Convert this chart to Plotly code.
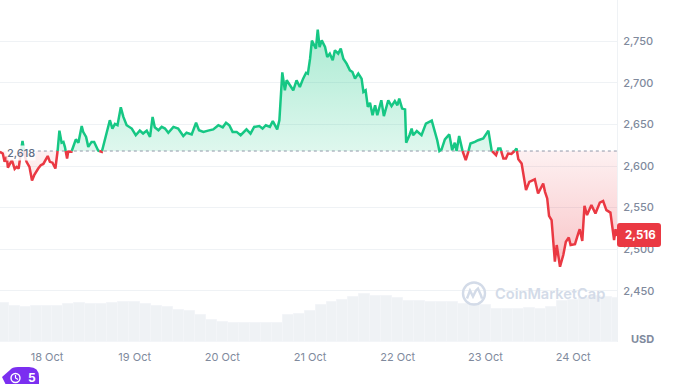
import numpy as np
import plotly.graph_objects as go

BASE = 2618
LAST = 2516
# hours since 18 Oct 00:00
hours = [-12.9,-12.1,-11.6,-11.0,-10.7,-10.1,-9.6,-8.85,-8.3,-7.75,-7.2,-6.7,-6.1,-5.6,-4.8,-4.1,-3.5,-2.4,-1.7,-1.0,-0.4,0.2,0.8,1.5,2.3,2.8,3.4,4.0,4.5,4.9,5.5,5.8,6.7,7.4,7.9,8.6,9.5,9.9,10.7,11.3,12.2,12.9,14.0,15.0,15.6,16.3,17.2,17.9,18.6,19.3,20.2,20.9,21.8,23.2,24.3,25.4,26.3,27.3,28.2,28.9,29.5,30.5,31.4,32.3,33.2,34.6,35.9,37.3,38.2,39.6,40.8,41.6,42.8,44.1,45.5,46.9,
 48.1,49,49.9,50.8,51.9,53,54.6,55.7,56.7,58.1,59,59.9,61,61.8,63,63.6,64,64.4,65.1,65.6,66.5,67.4,68.3,69.2,70.1,70.9,71.4,72,72.5,73.2,73.6,74.1,74.6,75.2,76.1,76.7,77.4,78.2,78.8,79.7,80.4,81.1,82,82.9,83.6,84.3,85.2,86.1,86.6,87.2,87.8,88.4,89.1,89.8,90.4,91.5,92.2,93.4,94.3,95.2,95.9,96.4,97.2,98,98.3,99.2,99.8,100.2,101.2,102.5,103.7,105.3,105.9,106.8,107.4,108,108.9,110.1,110.9,111.6,112.1,112.8,
 113.7,114.6,115.3,115.9,117.1,118,119.4,120.8,121.7,122.9,123.5,124.1,124.9,125.6,126.2,127.1,127.8,128.5,129,129.9,130.3,131.1,132,133.5,134.4,135.8,136.3,136.9,137.4,138.1,139,139.5,140.4,141.3,142,142.8,143.3,144.5,145.4,145.8,146.5,147.1,147.8,149,150.1,151.3,152.2,153.1,154.2,154.8,155.2,155.6,156]
price = [2617,2615,2605,2611,2598,2603,2607,2596.5,2599,2597,2615,2630,2613,2605,2599,2582.5,2589,2597,2601,2602.5,2606.5,2612,2605,2604,2597,2613,2642.5,2628,2629,2623,2609,2617,2617,2627,2632,2628,2648,2641,2635,2623,2629,2629,2618.5,2617,2627,2641,2655,2645,2650.5,2649,2670.5,2659,2649,2645,2637,2642.5,2639,2642.5,2635,2659,2646.5,2643,2647,2645,2640,2647,2645,2636,2640,2638,2652,2643,2641,2642.5,2644,2649,
 2646.5,2652,2649,2641,2641,2637,2644,2639,2647,2648,2645,2649,2647,2654,2644,2655,2691,2712.5,2691,2703,2697,2691,2703,2695,2705,2712,2711,2729,2750.7,2743,2741,2764,2743,2751,2743,2731,2735,2727,2739,2735,2741,2729,2723,2715,2713,2705,2711,2705,2689,2691,2671,2676,2661,2673,2661,2679,2660,2679,2672,2678,2673,2681,2669,2668,2628,2637,2645,2637,2642,2637,2651,2654.5,2645,2631,2618,2620,2632,2638,2619,2628,2618,2636,
 2618.5,2607,2617,2627,2629,2631,2633,2642.5,2618.5,2613,2621,2621,2609,2609,2615,2614.5,2617,2621,2608,2603,2593,2571,2581,2584,2567,2579,2569,2561,2540,2535,2485,2505,2479,2493,2509,2514,2505,2506,2519,2524,2510,2552,2541,2553,2543,2556,2558,2547,2544,2525,2511,2524,2516]
vol_hours = list(range(-12, 157, 3))
volume = [39,36,35,36,36,36.5,38,39,38.5,38,39,40,40.5,38,36,35,32.5,31.5,27,22,20,19,18.7,19,19.3,18.7,27,27.7,31,37,40,42,45,48,46,46.5,44,41,41,40.5,40,39.7,38.5,37.7,37,33,33,33,34,33,35,41,42.5,44.5,46,45,44]
tick_hours = [0,24,48,72,96,120,144]
tick_text = ["18 Oct","19 Oct","20 Oct","21 Oct","22 Oct","23 Oct","24 Oct"]
y_ticks = [2450,2500,2550,2600,2650,2700,2750]
if len(volume) != len(vol_hours):
    volume = (volume + volume[-1:]*99)[:len(vol_hours)]

GREEN, RED, GRID, TXT = "#16c784", "#ea3943", "#eff2f5", "#808a9d"

# insert crossings of the baseline
h2, p2 = [], []
for i in range(len(hours)):
    if i:
        a, b = price[i-1], price[i]
        if (a-BASE)*(b-BASE) < 0:
            h2.append(hours[i-1] + (BASE-a)/(b-a)*(hours[i]-hours[i-1]))
            p2.append(BASE)
    h2.append(hours[i]); p2.append(price[i])
h2 = np.array(h2); p2 = np.array(p2, dtype=float)
up = np.where(p2 >= BASE, p2, np.nan)
dn = np.where(p2 <= BASE, p2, np.nan)

fig = go.Figure()
fig.add_bar(x=vol_hours, y=volume, yaxis="y2", marker=dict(color="#eff2f5", line=dict(color="#f3f5f8", width=1)), hoverinfo="skip")
fig.add_scatter(x=h2, y=np.full_like(p2, BASE), mode="lines", line=dict(width=0), hoverinfo="skip")
fig.add_scatter(x=h2, y=np.maximum(p2, BASE), mode="lines", line=dict(width=0), fill="tonexty",
                fillgradient=dict(type="vertical", colorscale=[[0,"rgba(22,199,132,0.14)"],[1,"rgba(22,199,132,0.36)"]]), hoverinfo="skip")
fig.add_scatter(x=h2, y=np.full_like(p2, BASE), mode="lines", line=dict(width=0), hoverinfo="skip")
fig.add_scatter(x=h2, y=np.minimum(p2, BASE), mode="lines", line=dict(width=0), fill="tonexty",
                fillgradient=dict(type="vertical", colorscale=[[0,"rgba(234,57,67,0.30)"],[1,"rgba(234,57,67,0.07)"]]), hoverinfo="skip")
fig.add_scatter(x=[-2.5, 156], y=[BASE, BASE], mode="lines", line=dict(color="#8f98a8", width=1, dash="dot"), hoverinfo="skip")
fig.add_scatter(x=h2, y=up, mode="lines", line=dict(color=GREEN, width=2.5), connectgaps=False)
fig.add_scatter(x=h2, y=dn, mode="lines", line=dict(color=RED, width=2.5), connectgaps=False)

def pix(cx, cy, path, **kw):
    # path in pixels relative to a point given in page pixels from plot bottom-left
    return dict(type="path", xref="paper", yref="paper", xsizemode="pixel", ysizemode="pixel",
                xanchor=cx/617, yanchor=(342-cy)/342, path=path, **kw)

def ring(cx, cy, r, color, width):
    return dict(type="circle", xref="paper", yref="paper", xsizemode="pixel", ysizemode="pixel",
                xanchor=cx/617, yanchor=(342-cy)/342, x0=-r, x1=r, y0=-r, y1=r,
                fillcolor="rgba(0,0,0,0)", line=dict(color=color, width=width), layer="above")

WM = "#d3dbe8"
shapes = [
    # price tag
    dict(type="path", xref="paper", yref="y", xsizemode="pixel", ysizemode="pixel", xanchor=1, yanchor=LAST,
         path="M0,-8 L0,10 Q0,13 3,13 L41,13 Q44,13 44,10 L44,-8 Q44,-11 41,-11 L3,-11 Q0,-11 0,-8 Z",
         fillcolor=RED, line=dict(width=0), layer="above"),
    # logo
    ring(474, 293.5, 11, WM, 2.4),
    pix(474, 293.5, "M-7,-5 L-4,3 L-1,-3 L2,3 L4,5 L7,-2 L8,-5", fillcolor="rgba(0,0,0,0)", line=dict(color=WM, width=2.4), layer="above"),
    # badge
    pix(0, 384, "M2,7 L10,14 Q12,17 18,17 L29,17 Q39,17 39,7 L39,-5 L8,-5 Z", fillcolor="#7b2ff0", line=dict(width=0), layer="above"),
    ring(15.5, 378, 4.5, "white", 1.4),
    pix(15.5, 378, "M0,3 L0,0 L2.5,-1.5", fillcolor="rgba(0,0,0,0)", line=dict(color="white", width=1.2), layer="above"),
]

def note(px, py, text, size, color, weight=400, anchor="left", **kw):
    return dict(xref="paper", yref="paper", x=px/617, y=(342-py)/342, text=text, showarrow=False, xanchor=anchor, yanchor="middle",
                font=dict(family="Inter", size=size, color=color, weight=weight), **kw)

annotations = [
    note(6, 153, f"{BASE:,}", 11, "#616e85", 500, bgcolor="rgba(255,255,255,0.85)", borderpad=0),
    note(623, 235, f"{LAST:,}", 11.5, "white", 700),
    note(629, 339, "USD", 11, TXT, 700),
    note(493, 294, "CoinMarketCap", 14.6, WM, 600),
    note(26, 378, "5", 12, "white", 700),
]

fig.update_layout(
    width=679, height=384, autosize=False, showlegend=False, template=None,
    margin=dict(l=0, r=62, t=0, b=42, pad=0), paper_bgcolor="white", plot_bgcolor="white",
    font=dict(family="Inter", color=TXT, size=12), bargap=0,
    xaxis=dict(range=[-12.86, 156], tickvals=tick_hours, ticktext=tick_text, showgrid=False, zeroline=False,
               showline=False, ticks="outside", ticklen=5, tickcolor="rgba(0,0,0,0)", tickfont=dict(size=11, color=TXT)),
    yaxis=dict(range=[2388.5, 2799.5], side="right", tickvals=y_ticks, tickformat=",d", showgrid=True, gridcolor=GRID, gridwidth=1,
               zeroline=False, showline=True, linecolor=GRID, linewidth=1, ticks="outside", ticklen=3, tickcolor="rgba(0,0,0,0)",
               tickfont=dict(size=11, color=TXT, weight=500)),
    yaxis2=dict(range=[0, 342], overlaying="y", side="right", visible=False, fixedrange=True),
    shapes=shapes, annotations=annotations, hovermode=False,
)
fig.write_html("out.html", config={"displayModeBar": False}, post_script="document.body.style.margin='0';document.body.style.overflow='hidden';")
